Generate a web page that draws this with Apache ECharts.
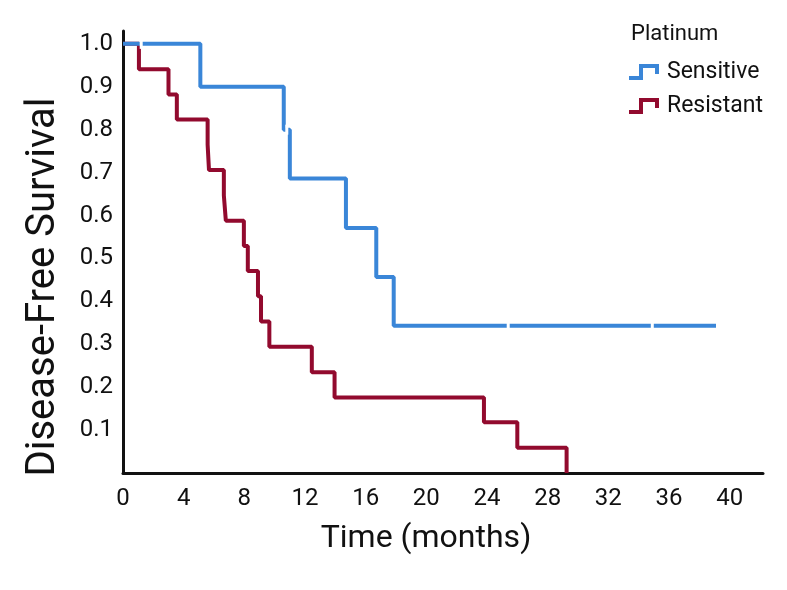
<!DOCTYPE html>
<html>
<head>
<meta charset="utf-8">
<script src="https://cdn.jsdelivr.net/npm/echarts@6/dist/echarts.min.js"></script>
<style>html,body{margin:0;padding:0;background:#fff;}#c{width:787px;height:590px;}</style>
</head>
<body>
<div id="c"></div>
<script>
// Kaplan-Meier step data
var sensitiveTimes = [0, 5.1, 10.6, 11.0, 14.7, 16.7, 17.85, 39.2];
var sensitiveSurv  = [1.0, 0.9, 0.8, 0.686, 0.571, 0.457, 0.343, 0.343];
var sensitiveCensorTimes = [1.2, 10.8, 25.4, 34.9, 39.2];
var sensitiveCensorSurv  = [1.0, 0.8, 0.343, 0.343, 0.343];

var resistantTimes = [0, 1.05, 3.0, 3.55, 5.58, 5.67, 6.65, 6.78, 7.97, 8.23, 8.9, 9.1, 9.65, 12.45, 13.95, 23.8, 26.0, 29.25];
var resistantSurv  = [1.0, 0.941, 0.882, 0.824, 0.765, 0.706, 0.647, 0.588, 0.529, 0.471, 0.412, 0.353, 0.294, 0.235, 0.176, 0.118, 0.059, 0.0];

var xTickLabels = ['0','4','8','12','16','20','24','28','32','36','40'];
var yTickLabels = ['0.1','0.2','0.3','0.4','0.5','0.6','0.7','0.8','0.9','1.0'];

var seriesNames = ['Sensitive', 'Resistant'];
var legendTitle = 'Platinum';
var xTitle = 'Time (months)';
var yTitle = 'Disease-Free Survival';

var BLUE = '#3a86d8';
var RED = '#920a2e';
var FONT = 'Roboto, "Liberation Sans", sans-serif';

function zip(a, b) { return a.map(function (v, i) { return [v, b[i]]; }); }

var chart = echarts.init(document.getElementById('c'), null, {renderer: 'canvas'});
var stepIcon = 'path://M0,10 L9,10 L9,1 L21,1 L21,7';

chart.setOption({
  animation: false,
  backgroundColor: '#ffffff',
  title: {
    text: legendTitle,
    left: 626, top: 18,
    textStyle: {fontFamily: FONT, fontSize: 22, fontWeight: 'normal', color: '#111'}
  },
  legend: {
    orient: 'vertical',
    left: 622, top: 54,
    itemWidth: 30, itemHeight: 12,
    itemGap: 8,
    icon: stepIcon,
    textStyle: {fontFamily: FONT, fontSize: 23, color: '#111', lineHeight: 26, padding: [0, 0, 0, 4]},
    data: [
      {name: seriesNames[0], itemStyle: {color: 'rgba(0,0,0,0)', borderColor: BLUE, borderWidth: 4}},
      {name: seriesNames[1], itemStyle: {color: 'rgba(0,0,0,0)', borderColor: RED, borderWidth: 4}}
    ]
  },
  grid: {left: 123, right: 24, top: 31, bottom: 117, containLabel: false},
  xAxis: {
    type: 'value', min: 0, max: 42.2, interval: 4,
    name: xTitle, nameLocation: 'middle', nameGap: 50,
    nameTextStyle: {fontFamily: FONT, fontSize: 32, color: '#111', padding: [0, 34, 0, 0]},
    axisLine: {show: true, lineStyle: {color: '#111', width: 3}},
    axisTick: {show: false},
    splitLine: {show: false},
    axisLabel: {
      margin: 14, fontFamily: FONT, fontSize: 24, color: '#111',
      formatter: function (v) {
        var i = Math.round(v / 4);
        return (Math.abs(v - i * 4) < 1e-6 && xTickLabels[i] !== undefined) ? xTickLabels[i] : '';
      }
    }
  },
  yAxis: {
    type: 'value', min: 0, max: 1.03, interval: 0.1,
    name: yTitle, nameLocation: 'middle', nameGap: 59,
    nameTextStyle: {fontFamily: FONT, fontSize: 40, color: '#111', padding: [0, 70, 0, 0]},
    axisLine: {show: true, lineStyle: {color: '#111', width: 3}},
    axisTick: {show: false},
    splitLine: {show: false},
    axisLabel: {
      margin: 10, fontFamily: FONT, fontSize: 24, color: '#111',
      formatter: function (v) {
        var i = Math.round(v * 10);
        return (Math.abs(v - i / 10) < 1e-6 && i >= 1 && yTickLabels[i - 1] !== undefined) ? yTickLabels[i - 1] : '';
      }
    }
  },
  series: [
    {
      name: seriesNames[0], type: 'line', step: 'end', showSymbol: false, symbol: 'none',
      data: zip(sensitiveTimes, sensitiveSurv),
      lineStyle: {color: BLUE, width: 4}, itemStyle: {color: BLUE}, z: 3
    },
    {
      name: seriesNames[1], type: 'line', step: 'end', showSymbol: false, symbol: 'none',
      data: zip(resistantTimes, resistantSurv),
      lineStyle: {color: RED, width: 4}, itemStyle: {color: RED}, z: 2
    },
    {
      name: 'censored', type: 'scatter', symbol: 'rect', symbolSize: [3, 10],
      data: zip(sensitiveCensorTimes, sensitiveCensorSurv),
      itemStyle: {color: '#ffffff', opacity: 1}, z: 5, silent: true
    }
  ]
});
</script>
</body>
</html>
